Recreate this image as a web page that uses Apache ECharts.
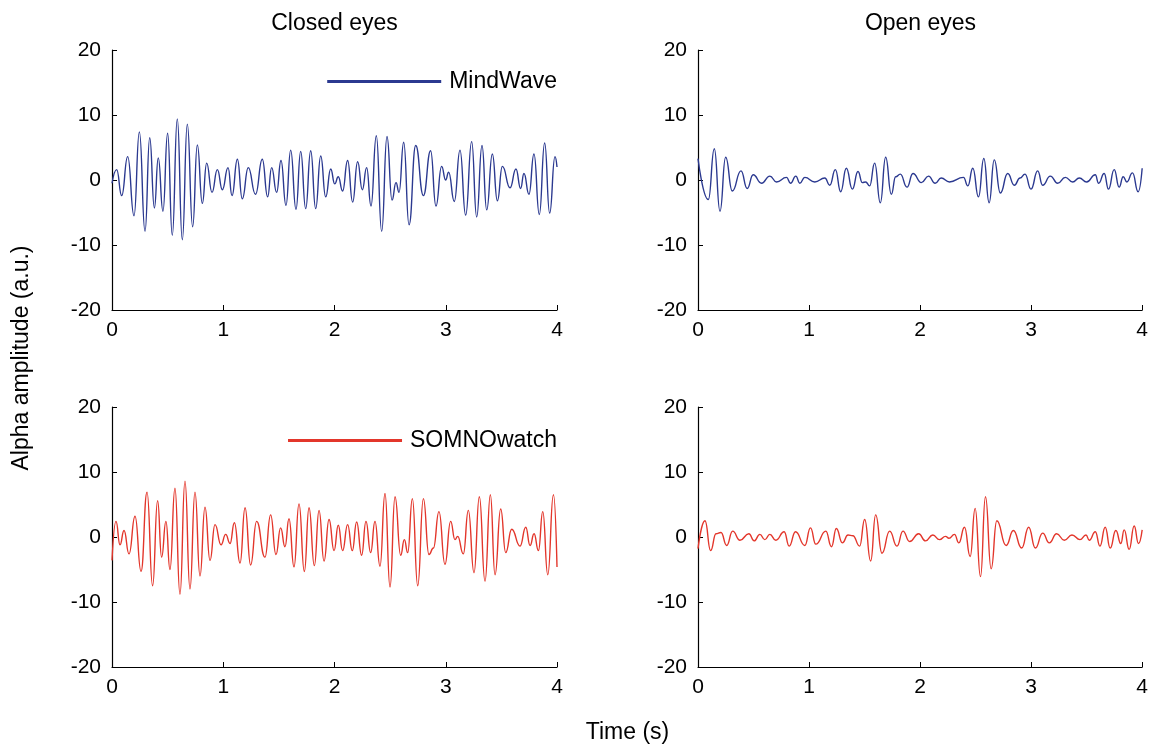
<!DOCTYPE html>
<html><head><meta charset="utf-8">
<script src="https://cdn.jsdelivr.net/npm/echarts@6/dist/echarts.min.js"></script>
<style>html,body{margin:0;padding:0;background:#fff}#c{width:1151px;height:745px}</style>
</head><body><div id="c"></div>
<script>
const panelTitles = ['Closed eyes', 'Open eyes'];
const seriesNames = ['MindWave', 'SOMNOwatch'];
const xAxisTitle = 'Time (s)';
const yAxisTitle = 'Alpha amplitude (a.u.)';
const timeRange = [0, 4, 1];
const ampRange = [-20, 20, 10];

const mindWaveClosed = [[0,-0.5],[0.042,1.6],[0.087,-2.4],[0.141,3.6],[0.198,-5.5],[0.246,7.4],[0.297,-7.9],[0.339,6.5],[0.381,-4.3],[0.416,3.4],[0.458,-4.8],[0.500,7.2],[0.542,-8.5],[0.587,9.4],[0.632,-9.2],[0.677,8.6],[0.725,-7.2],[0.767,5.4],[0.812,-3.6],[0.851,2.6],[0.899,-1.9],[0.947,1.6],[0.992,-1.5],[1.043,1.9],[1.079,-2.4],[1.127,3.2],[1.171,-2.9],[1.225,1.9],[1.290,-2.2],[1.351,3.2],[1.399,-2.6],[1.435,1.9],[1.480,-1.9],[1.519,3.0],[1.564,-3.9],[1.606,4.6],[1.654,-4.5],[1.696,4.4],[1.741,-4.4],[1.786,4.5],[1.831,-4.4],[1.876,3.7],[1.921,-2.6],[1.966,1.7],[2.002,-0.6],[2.034,0.5],[2.073,-1.7],[2.118,3.0],[2.163,-3.4],[2.208,2.8],[2.250,-1.5],[2.289,1.9],[2.328,-4.0],[2.376,6.8],[2.424,-7.9],[2.472,6.7],[2.517,-3.1],[2.553,-0.4],[2.580,-1.9],[2.622,5.8],[2.670,-6.9],[2.730,5.3],[2.799,-2.4],[2.864,4.5],[2.912,-4.0],[2.963,2.1],[2.999,0.0],[3.026,1.2],[3.077,-3.3],[3.128,4.6],[3.179,-5.4],[3.233,5.9],[3.278,-5.7],[3.326,5.3],[3.368,-4.6],[3.419,4.0],[3.464,-3.2],[3.509,2.1],[3.578,-1.2],[3.631,1.7],[3.673,-1.3],[3.703,1.0],[3.748,-2.2],[3.793,4.0],[3.841,-5.3],[3.889,5.7],[3.934,-5.1],[3.982,3.6],[4.0,2.0]];

const mindWaveOpen = [[0,3.3],[0.093,-3.0],[0.147,4.8],[0.198,-4.8],[0.249,3.5],[0.309,-1.7],[0.387,1.4],[0.443,-1.3],[0.497,0.8],[0.572,-0.5],[0.647,0.6],[0.707,-0.3],[0.797,0.4],[0.833,-0.5],[0.881,0.6],[0.917,-0.5],[0.962,0.4],[1.052,-0.3],[1.142,0.3],[1.187,-0.8],[1.237,1.6],[1.285,-1.8],[1.336,1.8],[1.390,-1.4],[1.441,1.3],[1.480,-0.4],[1.510,-0.3],[1.546,-0.9],[1.591,2.6],[1.642,-3.5],[1.690,3.5],[1.741,-2.2],[1.780,0.5],[1.822,0.9],[1.882,-1.1],[1.936,1.0],[2.011,-0.4],[2.076,0.6],[2.136,-0.5],[2.190,0.3],[2.265,-0.3],[2.391,0.4],[2.430,-0.9],[2.475,1.8],[2.526,-2.6],[2.574,3.3],[2.622,-3.5],[2.668,3.1],[2.723,-2.0],[2.789,1.0],[2.849,-0.8],[2.900,0.3],[2.945,0.9],[2.999,-1.4],[3.059,1.4],[3.104,-0.8],[3.173,0.6],[3.239,-0.5],[3.308,0.4],[3.374,-0.3],[3.434,0.3],[3.500,-0.3],[3.578,0.8],[3.608,-0.5],[3.658,1.0],[3.697,-1.4],[3.748,1.6],[3.793,-1.1],[3.829,0.5],[3.862,-0.3],[3.913,1.1],[3.964,-1.8],[4.0,1.8]];

const somnoClosed = [[0,-3.6],[0.036,2.4],[0.072,-1.2],[0.108,1.0],[0.153,-2.6],[0.207,3.2],[0.261,-5.3],[0.315,6.9],[0.365,-7.5],[0.410,5.6],[0.446,-3.1],[0.485,2.4],[0.521,-5.0],[0.566,7.5],[0.611,-8.8],[0.656,8.6],[0.701,-8.0],[0.746,6.9],[0.791,-6.0],[0.836,4.6],[0.881,-3.6],[0.926,1.9],[0.980,-1.2],[1.022,0.4],[1.061,-1.0],[1.100,2.2],[1.151,-4.0],[1.196,4.5],[1.246,-4.3],[1.300,2.4],[1.375,-3.1],[1.426,3.4],[1.474,-2.7],[1.516,1.4],[1.555,-1.5],[1.591,2.8],[1.636,-4.6],[1.681,5.1],[1.729,-5.3],[1.771,4.5],[1.819,-4.4],[1.861,4.1],[1.906,-3.7],[1.951,2.7],[1.996,-2.1],[2.034,1.8],[2.073,-2.1],[2.118,1.9],[2.160,-2.1],[2.199,2.3],[2.244,-2.8],[2.283,2.4],[2.325,-2.4],[2.364,2.4],[2.409,-4.5],[2.454,6.7],[2.499,-7.7],[2.544,6.2],[2.595,-2.8],[2.628,-0.4],[2.658,-2.4],[2.700,5.9],[2.748,-7.5],[2.799,5.9],[2.849,-2.7],[2.889,-1.7],[2.939,3.9],[2.993,-4.2],[3.044,2.4],[3.083,-0.4],[3.107,0.1],[3.158,-2.6],[3.203,4.1],[3.254,-5.5],[3.302,6.2],[3.353,-6.8],[3.401,6.5],[3.443,-5.8],[3.494,4.3],[3.539,-2.4],[3.593,1.2],[3.668,-1.4],[3.719,1.5],[3.758,-1.3],[3.794,0.5],[3.833,-2.1],[3.872,3.9],[3.917,-5.8],[3.968,6.5],[4.0,-4.6]];

const somnoOpen = [[0,-1.8],[0.063,2.5],[0.114,-2.1],[0.162,0.5],[0.207,0.7],[0.258,-1.3],[0.312,0.9],[0.378,-0.5],[0.458,0.5],[0.506,-0.6],[0.557,0.4],[0.602,-0.4],[0.647,0.4],[0.701,-0.5],[0.776,0.8],[0.821,-1.4],[0.878,0.8],[0.962,-1.3],[1.013,1.4],[1.061,-1.1],[1.151,0.9],[1.202,-1.5],[1.246,1.3],[1.300,-0.9],[1.351,0.3],[1.395,0.2],[1.456,-1.4],[1.501,2.7],[1.555,-3.7],[1.600,3.4],[1.657,-2.5],[1.726,0.9],[1.792,-1.4],[1.846,0.9],[1.906,-0.7],[1.987,0.5],[2.049,-0.6],[2.115,0.3],[2.175,-0.4],[2.229,0.1],[2.260,-0.2],[2.310,0.4],[2.349,-0.9],[2.400,1.5],[2.451,-3.0],[2.496,4.4],[2.544,-6.1],[2.589,6.2],[2.640,-4.9],[2.691,2.5],[2.775,-1.3],[2.840,1.0],[2.915,-1.7],[2.978,1.5],[3.038,-1.7],[3.104,0.6],[3.164,-0.9],[3.230,0.5],[3.299,-0.5],[3.368,0.3],[3.440,-0.4],[3.494,0.3],[3.524,-0.5],[3.578,0.8],[3.620,-1.4],[3.667,1.5],[3.712,-1.7],[3.763,1.0],[3.808,-1.0],[3.838,1.1],[3.883,-1.9],[3.928,1.7],[3.967,-1.0],[4.0,1.1]];

const FONT = '"Liberation Sans", Arial, Helvetica, sans-serif';
const FS_TICK = 21;
const FS_TEXT = 23;
const BLUE = '#2b3990';
const RED = '#e3362b';

const chart = echarts.init(document.getElementById('c'), null, {renderer: 'canvas'});

const grids = [
  {left: 112, top: 50, width: 445, height: 260},
  {left: 698, top: 50, width: 445, height: 260},
  {left: 112, top: 407, width: 445, height: 260},
  {left: 698, top: 407, width: 445, height: 260}
];

const axisCommon = {
  axisLine: {show: true, onZero: false, lineStyle: {color: '#000', width: 1.2}},
  axisTick: {show: true, inside: true, length: 5, lineStyle: {color: '#000', width: 1}},
  axisLabel: {color: '#000', fontSize: FS_TICK, fontFamily: FONT},
  splitLine: {show: false}
};

const xAxes = grids.map((g, i) => Object.assign({}, axisCommon, {
  type: 'value', gridIndex: i, min: timeRange[0], max: timeRange[1], interval: timeRange[2],
  axisLabel: Object.assign({}, axisCommon.axisLabel, {margin: 10})
}));
const yAxes = grids.map((g, i) => Object.assign({}, axisCommon, {
  type: 'value', gridIndex: i, min: ampRange[0], max: ampRange[1], interval: ampRange[2],
  axisLabel: Object.assign({}, axisCommon.axisLabel, {margin: 11})
}));

const data = [mindWaveClosed, mindWaveOpen, somnoClosed, somnoOpen];
const series = data.map((d, i) => ({
  type: 'line',
  name: i < 2 ? seriesNames[0] : seriesNames[1],
  xAxisIndex: i, yAxisIndex: i,
  data: d,
  showSymbol: false,
  symbol: 'none',
  smooth: 0.5,
  smoothMonotone: 'x',
  silent: true,
  animation: false,
  lineStyle: {color: i < 2 ? BLUE : RED, width: 1.4},
  itemStyle: {color: i < 2 ? BLUE : RED}
}));

const legendCommon = {
  orient: 'horizontal', icon: 'rect', itemWidth: 114, itemHeight: 3, padding: 0,
  selectedMode: false, textStyle: {fontSize: FS_TEXT, fontFamily: FONT, color: '#000', padding: [0, 0, 0, 3]}
};

const option = {
  backgroundColor: '#fff',
  animation: false,
  title: [
    {text: panelTitles[0], left: 334.5, top: 12, textAlign: 'center', padding: 0,
     textStyle: {fontSize: FS_TEXT, fontWeight: 'normal', color: '#000', fontFamily: FONT}},
    {text: panelTitles[1], left: 920.5, top: 12, textAlign: 'center', padding: 0,
     textStyle: {fontSize: FS_TEXT, fontWeight: 'normal', color: '#000', fontFamily: FONT}}
  ],
  legend: [
    Object.assign({}, legendCommon, {data: [seriesNames[0]], right: 594, top: 70}),
    Object.assign({}, legendCommon, {data: [seriesNames[1]], right: 594, top: 429})
  ],
  grid: grids,
  xAxis: xAxes,
  yAxis: yAxes,
  series: series,
  graphic: [
    {type: 'text', x: 22, y: 358, rotation: Math.PI / 2,
     style: {text: yAxisTitle, fill: '#000', fontSize: FS_TEXT, fontFamily: FONT, align: 'center', verticalAlign: 'middle'}},
    {type: 'text', x: 627.5, y: 733,
     style: {text: xAxisTitle, fill: '#000', fontSize: FS_TEXT, fontFamily: FONT, align: 'center', verticalAlign: 'middle'}}
  ]
};
chart.setOption(option);
</script>
</body></html>
